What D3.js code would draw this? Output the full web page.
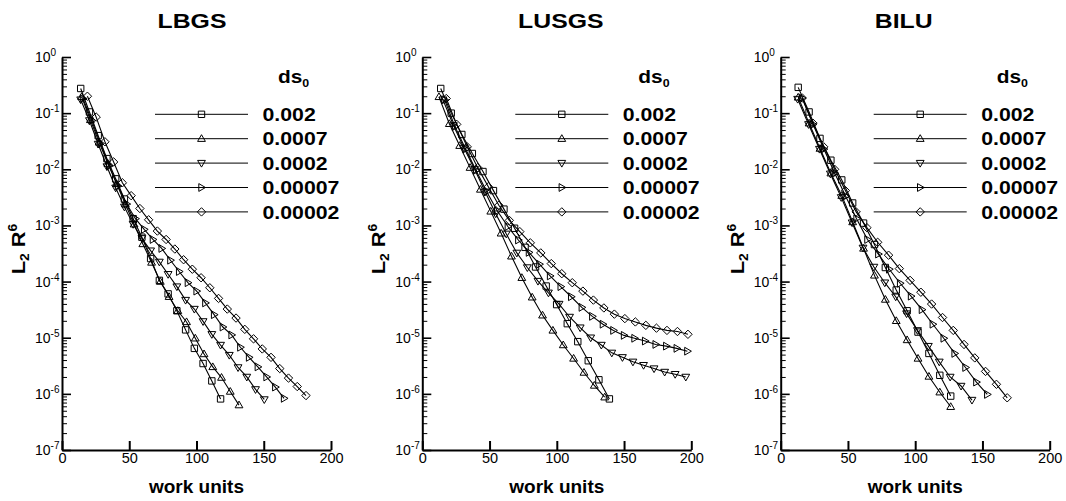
<!DOCTYPE html>
<html><head><meta charset="utf-8">
<script src="https://cdn.jsdelivr.net/npm/d3@7"></script>
<style>
body{margin:0;background:#fff}
svg{display:block}
text{font-family:"Liberation Sans",Arial,Helvetica,sans-serif;fill:#000}
</style>
</head><body>
<svg id="chart" width="1066" height="501"></svg>
<script>
// Convergence histories: L2 norm of residual vs. work units, three smoothers, five initial step sizes
const methods = ["LBGS", "LUSGS", "BILU"];
const dsLabels = ["0.002", "0.0007", "0.0002", "0.00007", "0.00002"];
const symbols = ["square", "triUp", "triDown", "triRight", "diamond"];
const xTicks = [0, 50, 100, 150, 200];
const yExponents = [0, -1, -2, -3, -4, -5, -6, -7];

const lbgsWork = [
  [13.9, 20.4, 26.9, 33.4, 39.9, 46.4, 52.9, 59.4, 65.9, 72.4, 78.9, 85.4, 91.9, 98.4, 104.9, 111.4, 117.9],
  [14.6, 21.1, 27.6, 34.1, 40.6, 47.1, 53.6, 60.1, 66.6, 73.1, 79.6, 86.1, 92.6, 99.1, 105.6, 112.1, 118.6, 125.1, 131.6],
  [13.9, 20.4, 26.9, 33.4, 39.9, 46.4, 52.9, 59.4, 65.9, 72.4, 78.9, 85.4, 91.9, 98.4, 104.9, 111.4, 117.9, 124.4, 130.9, 137.4, 143.9, 150.4],
  [15.6, 22.1, 28.6, 35.1, 41.6, 48.1, 54.6, 61.1, 67.6, 74.1, 80.6, 87.1, 93.6, 100.1, 106.6, 113.1, 119.6, 126.1, 132.6, 139.1, 145.6, 152.1, 158.6, 165.1],
  [18.9, 25.4, 31.9, 38.4, 44.9, 51.4, 57.9, 64.4, 70.9, 77.4, 83.9, 90.4, 96.9, 103.4, 109.9, 116.4, 122.9, 129.4, 135.9, 142.4, 148.9, 155.4, 161.9, 168.4, 174.9, 181.4]
];
const lbgsResidual = [
  [2.75e-1, 1.05e-1, 3.98e-2, 1.55e-2, 6.76e-3, 2.95e-3, 1.32e-3, 6.17e-4, 2.57e-4, 1.05e-4, 6.03e-5, 3.02e-5, 1.38e-5, 6.46e-6, 3.47e-6, 1.70e-6, 8.13e-7],
  [1.95e-1, 7.59e-2, 3.02e-2, 1.26e-2, 5.50e-3, 2.40e-3, 1.05e-3, 4.68e-4, 2.19e-4, 1.00e-4, 5.37e-5, 3.02e-5, 1.91e-5, 9.77e-6, 5.13e-6, 3.02e-6, 1.95e-6, 1.10e-6, 6.31e-7],
  [1.74e-1, 7.41e-2, 2.82e-2, 1.12e-2, 4.68e-3, 2.14e-3, 1.05e-3, 5.89e-4, 3.55e-4, 2.24e-4, 1.35e-4, 8.13e-5, 4.68e-5, 3.24e-5, 1.95e-5, 1.15e-5, 7.41e-6, 4.90e-6, 2.95e-6, 2.00e-6, 1.20e-6, 7.94e-7],
  [1.82e-1, 7.41e-2, 2.88e-2, 1.15e-2, 5.01e-3, 2.40e-3, 1.32e-3, 8.51e-4, 5.62e-4, 3.89e-4, 2.40e-4, 1.51e-4, 9.55e-5, 6.76e-5, 4.17e-5, 2.57e-5, 1.55e-5, 1.12e-5, 6.76e-6, 4.47e-6, 3.02e-6, 2.00e-6, 1.32e-6, 8.32e-7],
  [2.00e-1, 8.51e-2, 3.09e-2, 1.35e-2, 5.75e-3, 3.39e-3, 2.00e-3, 1.26e-3, 7.94e-4, 5.62e-4, 3.80e-4, 2.45e-4, 1.66e-4, 1.17e-4, 7.76e-5, 5.01e-5, 3.24e-5, 2.24e-5, 1.41e-5, 9.55e-6, 6.31e-6, 4.47e-6, 2.82e-6, 1.91e-6, 1.35e-6, 9.33e-7]
];

const lusgsWork = [
  [13.7, 21.5, 29.4, 37.2, 45.1, 52.9, 60.7, 68.6, 76.4, 84.2, 92.1, 99.9, 107.8, 115.6, 123.4, 131.3, 139.1],
  [12.4, 20.1, 27.8, 35.5, 43.2, 50.9, 58.6, 66.3, 74.0, 81.7, 89.4, 97.1, 104.8, 112.5, 120.2, 127.9, 135.6],
  [15.3, 23.2, 31.0, 38.9, 46.7, 54.6, 62.4, 70.3, 78.1, 86.0, 93.8, 101.7, 109.5, 117.4, 125.2, 133.1, 140.9, 148.8, 156.6, 164.5, 172.3, 180.2, 188.0, 195.9],
  [16.5, 24.3, 32.2, 40.0, 47.9, 55.7, 63.6, 71.4, 79.3, 87.1, 95.0, 102.9, 110.7, 118.6, 126.4, 134.3, 142.1, 150.0, 157.8, 165.7, 173.5, 181.4, 189.2, 197.1],
  [17.8, 25.6, 33.4, 41.2, 49.1, 56.9, 64.7, 72.5, 80.3, 88.1, 95.9, 103.7, 111.5, 119.4, 127.2, 135.0, 142.8, 150.6, 158.4, 166.2, 174.1, 181.9, 189.7, 197.5]
];
const lusgsResidual = [
  [2.75e-1, 1.00e-1, 4.17e-2, 1.91e-2, 9.12e-3, 4.17e-3, 1.95e-3, 8.91e-4, 4.07e-4, 1.82e-4, 8.32e-5, 3.89e-5, 1.78e-5, 8.51e-6, 3.89e-6, 1.78e-6, 8.13e-7],
  [1.95e-1, 6.46e-2, 2.63e-2, 1.07e-2, 4.37e-3, 1.78e-3, 7.24e-4, 2.82e-4, 1.17e-4, 5.25e-5, 2.51e-5, 1.35e-5, 7.41e-6, 4.27e-6, 2.40e-6, 1.41e-6, 8.71e-7],
  [1.74e-1, 6.03e-2, 2.40e-2, 1.00e-2, 3.98e-3, 1.62e-3, 7.08e-4, 3.24e-4, 1.78e-4, 1.02e-4, 6.31e-5, 3.98e-5, 2.34e-5, 1.51e-5, 1.00e-5, 7.41e-6, 5.37e-6, 4.47e-6, 3.72e-6, 3.24e-6, 2.82e-6, 2.45e-6, 2.24e-6, 2.00e-6],
  [1.74e-1, 5.75e-2, 2.29e-2, 9.55e-3, 3.98e-3, 1.82e-3, 9.55e-4, 5.50e-4, 3.31e-4, 2.04e-4, 1.26e-4, 8.13e-5, 5.37e-5, 3.47e-5, 2.40e-5, 1.74e-5, 1.35e-5, 1.10e-5, 9.77e-6, 8.71e-6, 7.59e-6, 7.08e-6, 6.46e-6, 5.75e-6],
  [1.82e-1, 6.31e-2, 2.51e-2, 1.07e-2, 4.90e-3, 2.29e-3, 1.23e-3, 7.76e-4, 4.90e-4, 3.24e-4, 2.09e-4, 1.38e-4, 9.55e-5, 6.76e-5, 4.68e-5, 3.39e-5, 2.63e-5, 2.19e-5, 1.91e-5, 1.66e-5, 1.48e-5, 1.35e-5, 1.29e-5, 1.15e-5]
];

const biluWork = [
  [13.0, 21.1, 29.2, 37.3, 45.4, 53.5, 61.6, 69.7, 77.8, 85.9, 94.0, 102.1, 110.2, 118.3, 126.4],
  [13.0, 21.1, 29.2, 37.3, 45.4, 53.5, 61.6, 69.7, 77.8, 85.9, 94.0, 102.1, 110.2, 118.3, 126.4],
  [12.6, 20.7, 28.8, 36.9, 45.0, 53.1, 61.2, 69.3, 77.4, 85.5, 93.6, 101.7, 109.8, 117.9, 126.0, 134.1, 142.2],
  [15.9, 24.0, 32.1, 40.2, 48.3, 56.4, 64.5, 72.6, 80.7, 88.8, 96.9, 105.0, 113.1, 121.2, 129.3, 137.4, 145.5, 153.6],
  [16.0, 24.0, 32.0, 40.1, 48.1, 56.1, 64.1, 72.1, 80.2, 88.2, 96.2, 104.2, 112.2, 120.3, 128.3, 136.3, 144.3, 152.3, 160.4, 168.4]
];
const biluResidual = [
  [2.88e-1, 1.05e-1, 3.55e-2, 1.45e-2, 6.46e-3, 2.51e-3, 1.10e-3, 4.57e-4, 1.78e-4, 7.08e-5, 3.02e-5, 1.26e-5, 5.25e-6, 2.14e-6, 9.12e-7],
  [1.91e-1, 6.61e-2, 2.34e-2, 8.51e-3, 3.39e-3, 1.15e-3, 3.89e-4, 1.29e-4, 4.79e-5, 2.00e-5, 9.12e-6, 4.27e-6, 2.04e-6, 1.07e-6, 5.89e-7],
  [1.78e-1, 6.31e-2, 2.29e-2, 8.32e-3, 3.16e-3, 1.12e-3, 3.98e-4, 1.82e-4, 9.55e-5, 5.37e-5, 2.69e-5, 1.35e-5, 7.08e-6, 3.72e-6, 2.00e-6, 1.38e-6, 7.76e-7],
  [1.86e-1, 6.31e-2, 2.29e-2, 8.51e-3, 3.31e-3, 1.32e-3, 5.62e-4, 3.09e-4, 1.66e-4, 9.33e-5, 5.50e-5, 3.16e-5, 1.74e-5, 9.77e-6, 5.25e-6, 2.95e-6, 1.62e-6, 9.77e-7],
  [1.86e-1, 6.61e-2, 2.51e-2, 1.00e-2, 4.17e-3, 1.74e-3, 9.12e-4, 5.01e-4, 2.95e-4, 1.70e-4, 1.05e-4, 6.46e-5, 3.98e-5, 2.29e-5, 1.35e-5, 7.59e-6, 4.37e-6, 2.51e-6, 1.48e-6, 8.51e-7]
];

const panelWork = [lbgsWork, lusgsWork, biluWork];
const panelResidual = [lbgsResidual, lusgsResidual, biluResidual];

// layout
const plotLeft = [62, 422.3, 780.7];
const plotWidth = 269;
const plotTop = 57, plotBottom = 450;
const titleOffset = [130, 138.5, 123];

const svg = d3.select("#chart");

const markerPath = {
  square: "M-3.2,-3.2h6.4v6.4h-6.4Z",
  triUp: "M0,-4L3.9,2.7L-3.9,2.7Z",
  triDown: "M0,4L3.9,-2.7L-3.9,-2.7Z",
  triRight: "M4,0L-2.7,3.9L-2.7,-3.9Z",
  diamond: "M0,-4.2L4.2,0L0,4.2L-4.2,0Z"
};

methods.forEach((name, p) => {
  const x0 = plotLeft[p];
  const x = d3.scaleLinear().domain([0, 200]).range([x0, x0 + plotWidth]);
  const y = d3.scaleLog().domain([1e-7, 1]).range([plotBottom, plotTop]);
  const g = svg.append("g");

  // title
  g.append("text")
    .attr("transform", `translate(${x0 + titleOffset[p]},28) scale(1.24,1)`)
    .attr("text-anchor", "middle")
    .style("font-size", "20px").style("font-weight", "bold")
    .text(name);

  // x axis
  const xAxis = g.append("g")
    .attr("transform", `translate(0,${plotBottom})`)
    .call(d3.axisBottom(x).tickValues(xTicks).tickSize(-9).tickSizeOuter(0).tickPadding(3).tickFormat(d3.format("d")));
  xAxis.select(".domain").attr("stroke-width", 2);
  xAxis.selectAll(".tick line").attr("stroke-width", 2);
  xAxis.selectAll(".tick text")
    .style("font-size", "14.5px").style("font-family", "'Liberation Sans',Arial,sans-serif").attr("fill", "#000");

  // y axis: decade ticks and minor ticks
  const majors = yExponents.map(e => Math.pow(10, e));
  const minors = [];
  yExponents.slice(0, -1).forEach(e => {
    for (let m = 2; m <= 9; m++) minors.push(m * Math.pow(10, e - 1));
  });
  const yAxis = g.append("g")
    .attr("transform", `translate(${x0},0)`)
    .call(d3.axisLeft(y).tickValues(majors).tickSize(-9).tickSizeOuter(0).tickFormat(""));
  yAxis.select(".domain").attr("stroke-width", 2);
  yAxis.selectAll(".tick line").attr("stroke-width", 1.6);
  const yMinor = g.append("g")
    .attr("transform", `translate(${x0},0)`)
    .call(d3.axisLeft(y).tickValues(minors).tickSize(-5).tickSizeOuter(0).tickFormat(""));
  yMinor.select(".domain").remove();
  yMinor.selectAll(".tick line").attr("stroke-width", 1);

  // power-of-ten tick labels
  yExponents.forEach(e => {
    const ty = y(Math.pow(10, e));
    const t = g.append("text")
      .attr("x", x0 - 27).attr("y", ty + 5)
      .style("font-size", "14px");
    t.append("tspan").text("10");
    t.append("tspan").attr("dy", -6).style("font-size", "10px").text(String(e));
  });

  // axis titles
  g.append("text")
    .attr("x", x0 + plotWidth / 2).attr("y", 493)
    .attr("text-anchor", "middle")
    .style("font-size", "19px").style("font-weight", "bold")
    .text("work units");

  const yl = g.append("text")
    .attr("transform", `translate(${x0 - 37},249) rotate(-90) scale(1.15,1)`)
    .attr("text-anchor", "middle")
    .style("font-size", "19px").style("font-weight", "bold");
  yl.append("tspan").text("L");
  yl.append("tspan").attr("dy", 4).style("font-size", "12px").text("2");
  yl.append("tspan").attr("dy", -4).text(" R");
  yl.append("tspan").attr("dy", -8).style("font-size", "12px").text("6");

  // series
  const work = panelWork[p], res = panelResidual[p];
  const line = d3.line().x(d => x(d[0])).y(d => y(d[1]));
  dsLabels.forEach((lab, s) => {
    const pts = work[s].map((w, i) => [w, res[s][i]]);
    g.append("path").datum(pts)
      .attr("d", line).attr("fill", "none").attr("stroke", "#000").attr("stroke-width", 1.1);
    g.selectAll(null).data(pts).enter().append("path")
      .attr("d", markerPath[symbols[s]])
      .attr("transform", d => `translate(${x(d[0])},${y(d[1])})`)
      .attr("fill", "none").attr("stroke", "#000").attr("stroke-width", 1);
  });

  // legend
  const lg = g.append("g");
  const head = lg.append("text")
    .attr("transform", `translate(${x0 + 216},82.7) scale(1.13,1)`)
    .style("font-size", "18.5px").style("font-weight", "bold");
  head.append("tspan").text("ds");
  head.append("tspan").attr("dy", 4).style("font-size", "11px").text("0");

  dsLabels.forEach((lab, s) => {
    const ry = 114.3 + s * 24.4;
    lg.append("line")
      .attr("x1", x0 + 93).attr("x2", x0 + 186)
      .attr("y1", ry).attr("y2", ry)
      .attr("stroke", "#000").attr("stroke-width", 1);
    lg.append("path")
      .attr("d", markerPath[symbols[s]])
      .attr("transform", `translate(${x0 + 139.5},${ry})`)
      .attr("fill", "none").attr("stroke", "#000").attr("stroke-width", 1);
    lg.append("text")
      .attr("transform", `translate(${x0 + 200.5},${ry + 6.6}) scale(1.15,1)`)
      .style("font-size", "18.5px").style("font-weight", "bold")
      .text(lab);
  });
});
</script>
</body></html>
